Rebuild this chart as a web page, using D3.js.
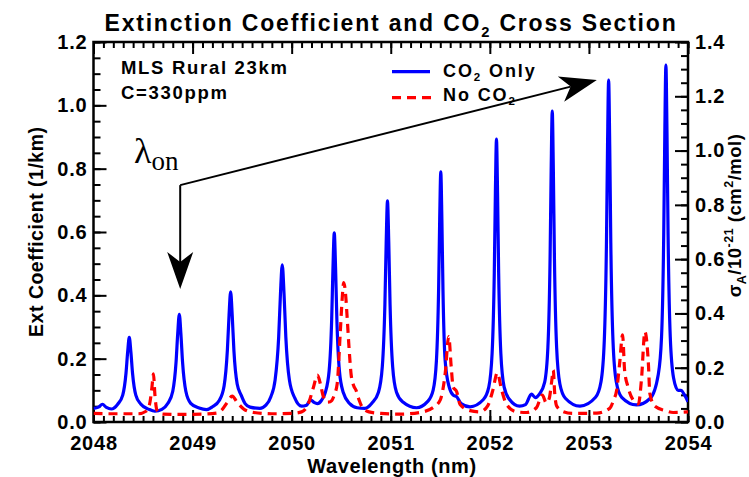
<!DOCTYPE html>
<html>
<head>
<meta charset="utf-8">
<script src="https://cdn.jsdelivr.net/npm/d3@7"></script>
<style>
  body { margin: 0; background: #fff; }
  svg { display: block; font-family: 'Liberation Sans', Arial, Helvetica, sans-serif; font-weight: bold; }
  text { white-space: pre; }
</style>
</head>
<body>
<svg width="749" height="477"></svg>
<script>
// [wavelength (nm), ext coefficient (1/km)]
const co2Only = [
  [2048.00, 0.043], [2048.05, 0.047], [2048.09, 0.056], [2048.13, 0.046], [2048.18, 0.041],
  [2048.246, 0.057], [2048.295, 0.085], [2048.328, 0.154], [2048.345, 0.222], [2048.361, 0.267],
  [2048.377, 0.222], [2048.394, 0.154], [2048.427, 0.085], [2048.476, 0.057], [2048.56, 0.040],
  [2048.62, 0.034], [2048.69, 0.040],
  [2048.751, 0.059], [2048.80, 0.097], [2048.833, 0.188], [2048.85, 0.279], [2048.866, 0.340],
  [2048.882, 0.279], [2048.899, 0.188], [2048.932, 0.097], [2048.981, 0.059], [2049.066, 0.044],
  [2049.14, 0.039], [2049.20, 0.048],
  [2049.269, 0.068], [2049.318, 0.114], [2049.351, 0.226], [2049.368, 0.337], [2049.384, 0.411],
  [2049.40, 0.337], [2049.417, 0.226], [2049.45, 0.120], [2049.49, 0.085], [2049.53, 0.058],
  [2049.58, 0.047], [2049.68, 0.043], [2049.74, 0.053],
  [2049.79, 0.080], [2049.833, 0.133], [2049.869, 0.269], [2049.887, 0.405], [2049.905, 0.496],
  [2049.923, 0.405], [2049.941, 0.269], [2049.977, 0.133], [2050.031, 0.076], [2050.10, 0.050],
  [2050.15, 0.053], [2050.19, 0.070], [2050.225, 0.062], [2050.26, 0.058], [2050.30, 0.068],
  [2050.339, 0.093], [2050.378, 0.161], [2050.404, 0.325], [2050.417, 0.488], [2050.43, 0.597],
  [2050.443, 0.488], [2050.456, 0.325], [2050.482, 0.161], [2050.521, 0.093], [2050.586, 0.058],
  [2050.66, 0.045], [2050.74, 0.043],
  [2050.811, 0.060], [2050.876, 0.094], [2050.915, 0.176], [2050.941, 0.372], [2050.954, 0.567],
  [2050.967, 0.698], [2050.98, 0.567], [2050.993, 0.372], [2051.019, 0.176], [2051.058, 0.094],
  [2051.123, 0.063], [2051.26, 0.045],
  [2051.373, 0.065], [2051.428, 0.101], [2051.461, 0.194], [2051.483, 0.418], [2051.494, 0.641],
  [2051.505, 0.790], [2051.516, 0.641], [2051.527, 0.418], [2051.549, 0.194], [2051.59, 0.110],
  [2051.63, 0.085], [2051.665, 0.080], [2051.71, 0.058], [2051.80, 0.048],
  [2051.935, 0.071], [2051.99, 0.111], [2052.023, 0.217], [2052.045, 0.471], [2052.056, 0.724],
  [2052.067, 0.893], [2052.078, 0.724], [2052.089, 0.471], [2052.111, 0.217], [2052.144, 0.111],
  [2052.199, 0.071], [2052.30, 0.050], [2052.36, 0.055], [2052.42, 0.088], [2052.46, 0.077],
  [2052.50, 0.088], [2052.553, 0.125], [2052.586, 0.236], [2052.608, 0.516], [2052.619, 0.796],
  [2052.63, 0.982], [2052.641, 0.796], [2052.652, 0.516], [2052.674, 0.236], [2052.707, 0.120],
  [2052.762, 0.075], [2052.91, 0.050],
  [2053.067, 0.078], [2053.122, 0.127], [2053.155, 0.256], [2053.177, 0.565], [2053.188, 0.874],
  [2053.199, 1.080], [2053.21, 0.874], [2053.221, 0.565], [2053.243, 0.256], [2053.276, 0.127],
  [2053.331, 0.078], [2053.48, 0.054],
  [2053.62, 0.075], [2053.70, 0.150], [2053.733, 0.269], [2053.755, 0.591], [2053.766, 0.913],
  [2053.777, 1.127], [2053.788, 0.913], [2053.799, 0.591], [2053.821, 0.269], [2053.854, 0.140],
  [2053.90, 0.100], [2053.93, 0.100], [2053.96, 0.088], [2054.00, 0.064]
]

const noCo2 = [
  [2048.00, 0.027], [2048.20, 0.026], [2048.45, 0.026], [2048.53, 0.034], [2048.565, 0.055],
  [2048.59, 0.110], [2048.605, 0.152], [2048.62, 0.085], [2048.64, 0.038], [2048.70, 0.025],
  [2048.90, 0.024], [2049.10, 0.025], [2049.24, 0.028], [2049.30, 0.040], [2049.35, 0.062],
  [2049.40, 0.082], [2049.45, 0.062], [2049.52, 0.040], [2049.62, 0.030], [2049.80, 0.026],
  [2050.00, 0.027], [2050.10, 0.032], [2050.17, 0.059], [2050.22, 0.110], [2050.26, 0.148],
  [2050.29, 0.120], [2050.32, 0.080], [2050.36, 0.063], [2050.39, 0.064], [2050.43, 0.085],
  [2050.46, 0.122], [2050.49, 0.280], [2050.51, 0.390], [2050.525, 0.440], [2050.545, 0.400],
  [2050.56, 0.330], [2050.58, 0.230], [2050.60, 0.150], [2050.625, 0.115], [2050.65, 0.100],
  [2050.68, 0.070], [2050.71, 0.048], [2050.78, 0.032], [2050.90, 0.027], [2051.10, 0.025],
  [2051.29, 0.030], [2051.43, 0.046], [2051.50, 0.070], [2051.55, 0.155], [2051.585, 0.270],
  [2051.61, 0.175], [2051.63, 0.110], [2051.665, 0.096], [2051.70, 0.055], [2051.80, 0.036],
  [2051.90, 0.032], [2051.98, 0.052], [2052.03, 0.100], [2052.075, 0.155], [2052.12, 0.100],
  [2052.17, 0.055], [2052.27, 0.032], [2052.37, 0.030], [2052.47, 0.045], [2052.53, 0.085],
  [2052.57, 0.060], [2052.60, 0.075], [2052.625, 0.130], [2052.64, 0.164], [2052.655, 0.090],
  [2052.675, 0.050], [2052.74, 0.033], [2052.84, 0.027], [2053.08, 0.028], [2053.21, 0.043],
  [2053.25, 0.070], [2053.28, 0.100], [2053.31, 0.185], [2053.34, 0.275], [2053.36, 0.164],
  [2053.395, 0.110], [2053.46, 0.064], [2053.50, 0.057], [2053.53, 0.133], [2053.565, 0.285],
  [2053.60, 0.185], [2053.615, 0.090], [2053.665, 0.050], [2053.77, 0.036], [2053.85, 0.030],
  [2054.00, 0.032]
]

const xTicks = [2048, 2049, 2050, 2051, 2052, 2053, 2054]
const leftTicks = [0.0, 0.2, 0.4, 0.6, 0.8, 1.0, 1.2]
const rightTicks = [0.0, 0.2, 0.4, 0.6, 0.8, 1.0, 1.2, 1.4]

// annotation arrows, in data units (left axis)
const arrowStart = [2048.875, 0.748]
const arrowTips = [[2048.875, 0.42], [2053.08, 1.08]]

const svg = d3.select('svg')
const plot = { left: 93.5, right: 688, top: 42, bottom: 422 }

const x = d3.scaleLinear().domain([2048, 2054]).range([plot.left, plot.right])
const yL = d3.scaleLinear().domain([0, 1.2]).range([plot.bottom, plot.top])
const yR = d3.scaleLinear().domain([0, 1.4]).range([plot.bottom, plot.top])

svg.append('rect').attr('width', 749).attr('height', 477).attr('fill', '#fff')

// axes, ticks pointing inward
function drawAxis(axis, transform, labelled) {
  const g = svg.append('g').attr('transform', transform).call(axis)
  g.attr('font-family', null).attr('font-size', null)
  g.select('.domain').remove()
  g.selectAll('line').attr('stroke', '#000').attr('stroke-width', 2)
  if (labelled) {
    g.selectAll('text').attr('fill', '#000').attr('font-size', 20).style('letter-spacing', '0.8px')
  }
  return g
}

drawAxis(d3.axisLeft(yL).tickValues(d3.range(0, 1.2001, 0.05)).tickSize(-7).tickFormat(''), `translate(${plot.left},0)`)
drawAxis(d3.axisLeft(yL).tickValues(leftTicks).tickSize(-13).tickPadding(6).tickFormat(d3.format('.1f')), `translate(${plot.left},0)`, true)
drawAxis(d3.axisRight(yR).tickValues(d3.range(0, 1.4001, 0.05)).tickSize(-7).tickFormat(''), `translate(${plot.right},0)`)
drawAxis(d3.axisRight(yR).tickValues(rightTicks).tickSize(-13).tickPadding(7).tickFormat(d3.format('.1f')), `translate(${plot.right},0)`, true)
drawAxis(d3.axisBottom(x).tickValues(d3.range(2048, 2054.001, 0.1)).tickSize(-6).tickFormat(''), `translate(0,${plot.bottom})`)
drawAxis(d3.axisBottom(x).tickValues(xTicks).tickSize(-12).tickPadding(14).tickFormat(d3.format('d')), `translate(0,${plot.bottom})`, true)
drawAxis(d3.axisTop(x).tickValues(d3.range(2048, 2054.001, 0.1)).tickSize(-6).tickFormat(''), `translate(0,${plot.top})`)
drawAxis(d3.axisTop(x).tickValues(xTicks).tickSize(-12).tickFormat(''), `translate(0,${plot.top})`)

svg.append('rect')
  .attr('x', plot.left).attr('y', plot.top)
  .attr('width', plot.right - plot.left).attr('height', plot.bottom - plot.top)
  .attr('fill', 'none').attr('stroke', '#000').attr('stroke-width', 2.5)

// curves
svg.append('clipPath').attr('id', 'clip').append('rect')
  .attr('x', plot.left).attr('y', plot.top)
  .attr('width', plot.right - plot.left).attr('height', plot.bottom - plot.top)

const line = d3.line().x((d) => x(d[0])).y((d) => yL(d[1])).curve(d3.curveMonotoneX)

svg.append('path').datum(co2Only)
  .attr('clip-path', 'url(#clip)')
  .attr('d', line).attr('fill', 'none')
  .attr('stroke', '#0000ff').attr('stroke-width', 3.2).attr('stroke-linejoin', 'round')

svg.append('path').datum(noCo2)
  .attr('clip-path', 'url(#clip)')
  .attr('d', line).attr('fill', 'none')
  .attr('stroke', '#ff0000').attr('stroke-width', 3.2).attr('stroke-dasharray', '9,6')

// legend
const legend = svg.append('g')
legend.append('line').attr('x1', 392).attr('x2', 430).attr('y1', 71.7).attr('y2', 71.7)
  .attr('stroke', '#0000ff').attr('stroke-width', 3.2)
legend.append('line').attr('x1', 392).attr('x2', 431).attr('y1', 97.7).attr('y2', 97.7)
  .attr('stroke', '#ff0000').attr('stroke-width', 3.2).attr('stroke-dasharray', '9,6')

function co2Text(sel, before, after, size, sub) {
  sel.append('tspan').text(before + 'CO')
  sel.append('tspan').attr('font-size', size * 0.64).attr('dy', size * sub).text('2')
  sel.append('tspan').attr('dy', -size * sub).text(after)
}

const leg1 = legend.append('text').attr('x', 443).attr('y', 77.3).attr('font-size', 18).style('letter-spacing', '1.9px')
co2Text(leg1, '', ' Only', 18, 0.22)
const leg2 = legend.append('text').attr('x', 443).attr('y', 101).attr('font-size', 18).style('letter-spacing', '1.9px')
co2Text(leg2, 'No ', '', 18, 0.22)

// notes
svg.append('text').attr('x', 121).attr('y', 74).attr('font-size', 18.5).style('letter-spacing', '1.7px').text('MLS Rural 23km')
svg.append('text').attr('x', 121).attr('y', 98.5).attr('font-size', 18.5).style('letter-spacing', '1.7px').text('C=330ppm')

// title
const title = svg.append('text').attr('x', 391).attr('y', 31).attr('text-anchor', 'middle')
  .attr('font-size', 23).style('letter-spacing', '1.8px')
co2Text(title, 'Extinction Coefficient and ', ' Cross Section', 23, 0.28)

// axis titles
svg.append('text').attr('x', 392).attr('y', 473).attr('text-anchor', 'middle')
  .attr('font-size', 20).style('letter-spacing', '0.6px').text('Wavelength (nm)')

svg.append('text').attr('transform', 'translate(43,231.7) rotate(-90)').attr('text-anchor', 'middle')
  .attr('font-size', 19.5).style('letter-spacing', '0.5px').text('Ext Coefficient (1/km)')

const rt = svg.append('text').attr('transform', 'translate(741,215.5) rotate(-90)')
  .attr('text-anchor', 'middle').attr('font-size', 18.5).style('letter-spacing', '0.5px')
rt.append('tspan').text('\u03c3')
rt.append('tspan').attr('font-size', 12.5).attr('dy', 5).text('A')
rt.append('tspan').attr('dy', -5).text('/10')
rt.append('tspan').attr('font-size', 12.5).attr('dy', -8).text('-21')
rt.append('tspan').attr('dy', 8).text(' (cm')
rt.append('tspan').attr('font-size', 12.5).attr('dy', -8).text('2')
rt.append('tspan').attr('dy', 8).text('/mol)')

// lambda_on label
const lam = svg.append('text').attr('x', 134).attr('y', 163)
  .attr('font-family', "'Liberation Serif', 'Times New Roman', serif").attr('font-weight', 'normal')
lam.append('tspan').attr('font-size', 36).text('\u03bb')
lam.append('tspan').attr('font-size', 27).attr('dy', 7).text('on')

// arrows with notched heads
function arrow(from, to, len, half, notch) {
  const x0 = x(from[0]), y0 = yL(from[1]), x1 = x(to[0]), y1 = yL(to[1])
  const dist = Math.hypot(x1 - x0, y1 - y0)
  const ux = (x1 - x0) / dist, uy = (y1 - y0) / dist
  const nx = -uy, ny = ux
  const bx = x1 - ux * len, by = y1 - uy * len
  const kx = x1 - ux * (len - notch), ky = y1 - uy * (len - notch)
  svg.append('line').attr('x1', x0).attr('y1', y0).attr('x2', kx).attr('y2', ky)
    .attr('stroke', '#000').attr('stroke-width', 2)
  svg.append('path')
    .attr('d', `M${x1},${y1}L${bx + nx * half},${by + ny * half}L${kx},${ky}L${bx - nx * half},${by - ny * half}Z`)
    .attr('fill', '#000')
}

arrowTips.forEach((tip) => arrow(arrowStart, tip, 37, 13, 10))
</script>
</body>
</html>
